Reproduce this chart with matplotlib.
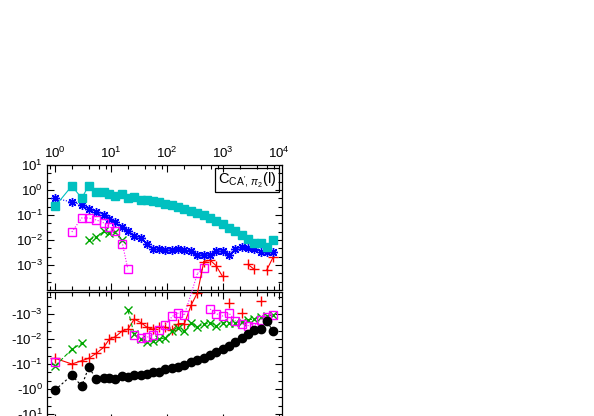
import numpy as np
import matplotlib
matplotlib.use("Agg")
import matplotlib.pyplot as plt
from matplotlib.ticker import LogLocator, NullFormatter, FixedLocator
from matplotlib.lines import Line2D
from matplotlib.patches import Rectangle

plt.rcParams['font.family'] = ['Liberation Sans', 'DejaVu Sans']
plt.rcParams['mathtext.fontset'] = 'custom'
plt.rcParams['mathtext.rm'] = 'Liberation Sans'
plt.rcParams['mathtext.it'] = 'Liberation Sans:italic'
plt.rcParams['mathtext.sf'] = 'Liberation Sans'

nan = np.nan

# l values (shared by every curve)
l_vals = [1, 2, 3, 4, 5.5, 7.5, 9.3, 12, 16, 20, 26, 34, 44, 56, 72, 93,
          125, 160, 205, 270, 350, 455, 590, 750, 980, 1290, 1660, 2150,
          2800, 3550, 4700, 6000, 7800]

# signed correlation values
cyan_vals = [0.22, 1.46, 0.47, 1.5, 0.86, 0.82, 0.72, 0.58, 0.68, 0.50, 0.52,
             0.41, 0.39, 0.36, 0.33, 0.28, 0.24, 0.21, 0.177, 0.147, 0.119,
             0.096, 0.075, 0.059, 0.044, 0.030, 0.022, 0.0163, 0.0113,
             0.0076, 0.0076, 0.0052, 0.0102]
blue_vals = [0.47, 0.33, 0.255, 0.177, 0.13, 0.099, 0.071, 0.052, 0.034,
             0.022, 0.0148, 0.012, 0.0071, 0.0045, 0.0042, 0.0039, 0.004,
             0.0043, 0.0041, 0.0037, 0.0026, 0.0026, 0.0026, 0.0035, 0.0037,
             0.0026, 0.0045, 0.0052, 0.0048, 0.0045, 0.0033, 0.0033, 0.0033]
magenta_vals = [-0.081, 0.021, 0.076, 0.076, 0.063, 0.048, 0.034, 0.023,
                0.0071, 0.00068, -0.0067, -0.0091, -0.0085, -0.0068, -0.0045,
                -0.0027, -0.00123, -0.00091, -0.00107, nan, 0.00046, 0.00074,
                -0.00063, -0.00097, -0.0012, -0.00094, -0.0019, -0.0024,
                -0.0029, -0.0032, -0.0017, -0.0013, -0.0011]
red_vals = [-0.059, -0.1, -0.074, -0.059, -0.037, -0.021, -0.0102, -0.0081,
            -0.0047, -0.0041, -0.0016, -0.0022, -0.0034, -0.0041, -0.0032,
            -0.0034, -0.0044, -0.0024, -0.0024, -0.00044, -0.00014, 0.00138,
            0.00155, 0.00095, 0.00035, -0.00037, nan, -0.00089, 0.00105,
            0.00069, -0.0003, 0.00062, 0.002]
green_vals = [-0.12, -0.026, -0.0148, 0.0098, 0.0135, 0.022, 0.0195, 0.021,
              0.0098, -0.00069, -0.0065, -0.0103, -0.0129, -0.012, -0.0103,
              -0.0089, -0.0046, -0.0037, -0.0048, -0.0022, -0.0032, -0.0026,
              -0.0022, -0.003, -0.0022, -0.0022, -0.0023, -0.002, -0.0017,
              -0.0016, -0.0013, -0.0012, -0.0011]
black_vals = [-1.1, -0.28, -0.76, -0.135, -0.40, -0.36, -0.36, -0.39, -0.30,
              -0.33, -0.28, -0.28, -0.25, -0.21, -0.20, -0.16, -0.148, -0.129,
              -0.107, -0.085, -0.069, -0.058, -0.045, -0.034, -0.026, -0.0186,
              -0.0132, -0.0093, -0.0062, -0.0043, -0.0039, -0.0019, -0.0048]

# sign changes that are joined across the two panels (index pairs)
red_bridge = (20, 21)
magenta_bridge = (18, 20)

series = [
    # values, color, marker, linestyle, filled, size
    (red_vals, '#ff0000', '+', '-', True, 6.5),
    (green_vals, '#00a800', 'x', (0, (4, 2)), True, 6),
    (blue_vals, '#0000ff', (8, 2, 0), (0, (1, 1.5)), True, 6.5),
    (magenta_vals, '#ff00ff', 's', (0, (1, 1.5)), False, 5.5),
    (cyan_vals, '#00c0c0', 's', '-', True, 5.5),
    (black_vals, '#000000', 'o', (0, (2, 2)), True, 6),
]

W, H = 594, 416
fig = plt.figure(figsize=(5.94, 4.16), dpi=100)


def box(x0, y0, x1, y1):
    return [x0 / W, 1 - y1 / H, (x1 - x0) / W, (y1 - y0) / H]


ax_top = fig.add_axes(box(47, 165, 282, 290))
ax_bot = fig.add_axes(box(47, 291.5, 282, 421))

x = np.array(l_vals, dtype=float)
for vals, col, mk, ls, filled, size in series:
    v = np.array(vals, dtype=float)
    up = np.where(v > 0, v, nan)
    dn = np.where(v < 0, -v, nan)
    kw = dict(color=col, marker=mk, ls=ls, lw=0.8, ms=size, mew=1.0,
              mfc=col if filled else 'none', mec=col)
    ax_top.plot(x, up, **kw)
    ax_bot.plot(x, dn, **kw)

for ax in (ax_top, ax_bot):
    ax.set_xscale('log')
    ax.set_yscale('log')
    ax.set_xlim(0.72, 11300)
    ax.xaxis.set_major_locator(FixedLocator([1, 10, 100, 1000, 10000]))
    ax.xaxis.set_minor_locator(LogLocator(base=10, subs=(2, 4, 6, 8), numticks=20))
    ax.yaxis.set_minor_locator(LogLocator(base=10, subs=(2, 5), numticks=20))
    ax.xaxis.set_minor_formatter(NullFormatter())
    ax.yaxis.set_minor_formatter(NullFormatter())
    ax.tick_params(which='both', direction='in', top=True, right=True,
                   labelsize=9.5, width=0.8)
    ax.tick_params(which='major', length=5)
    ax.tick_params(which='minor', length=3)
    for s in ax.spines.values():
        s.set_linewidth(0.9)

ax_top.set_ylim(1e-4, 10)
ax_bot.set_ylim(10 ** 1.28, 10 ** -3.9)

ax_top.xaxis.set_major_formatter(plt.FuncFormatter(lambda v, p: r'$10^{%d}$' % round(np.log10(v))))
ax_top.tick_params(axis='x', labeltop=True, labelbottom=False, pad=3)
ax_bot.tick_params(axis='x', labeltop=False, labelbottom=False)

top_ticks = [1e-3, 1e-2, 1e-1, 1, 10]
ax_top.yaxis.set_major_locator(FixedLocator(top_ticks))
ax_top.set_yticklabels([r'$10^{%d}$' % round(np.log10(t)) for t in top_ticks])
bot_ticks = [1e-3, 1e-2, 1e-1, 1, 10]
ax_bot.yaxis.set_major_locator(FixedLocator(bot_ticks))
ax_bot.set_yticklabels([r'-$10^{%d}$' % round(np.log10(t)) for t in bot_ticks])
for ax in (ax_top, ax_bot):
    ax.tick_params(axis='y', pad=3)

# key box
ax_top.add_patch(Rectangle((0.715, 0.784), 0.272, 0.192, transform=ax_top.transAxes,
                           fill=False, lw=0.9, ec='black', zorder=5))
ax_top.text(0.851, 0.88, r"$\mathrm{C}_{\mathrm{CA}',\,\pi_2}\mathrm{(l)}$",
            transform=ax_top.transAxes, ha='center', va='center', fontsize=10.5)

# lines joining a point below zero to the next point above zero
to_fig = fig.transFigure.inverted()
for vals, col, ls, (i, j) in [(red_vals, '#ff0000', '-', red_bridge),
                              (magenta_vals, '#ff00ff', (0, (1, 1.5)), magenta_bridge)]:
    p_bot = ax_bot.transData.transform((l_vals[i], -vals[i]))
    p_top = ax_top.transData.transform((l_vals[j], vals[j]))
    a = to_fig.transform(p_bot)
    b = to_fig.transform(p_top)
    fig.add_artist(Line2D([a[0], b[0]], [a[1], b[1]], transform=fig.transFigure,
                          color=col, ls=ls, lw=0.8))

plt.savefig("out.png", dpi=100)
